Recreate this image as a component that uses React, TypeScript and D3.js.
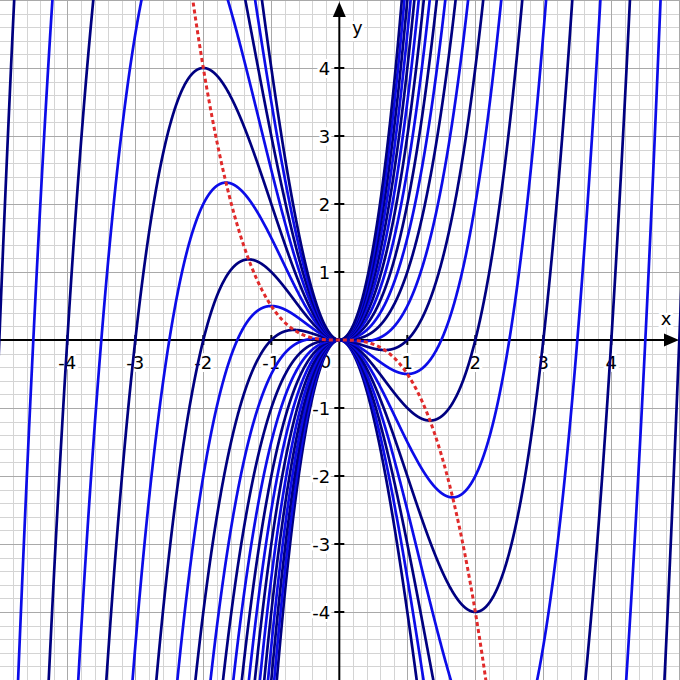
import React, { useEffect } from 'react';
import * as d3 from 'd3';

const W = 680;
const H = 680;

// family f_t(x) = x^3 + t x^2
const params = [-5, -4.5, -4, -3.5, -3, -2.5, -2, -1.5, -1, -0.5, 0, 0.5, 1, 1.5, 2, 2.5, 3, 3.5, 4, 4.5, 5];
const xTickValues = [-4, -3, -2, -1, 1, 2, 3, 4];
const yTickValues = [-4, -3, -2, -1, 1, 2, 3, 4];
const xDomain = [-4.99, 5.01];
const yDomain = [-5.0, 5.0];

const NAVY = '#000080';
const BLUE = '#0c0ce8';
const RED = '#e02a2a';
const FONT = "'DejaVu Sans', Verdana, sans-serif";

export default function App() {
  useEffect(() => {
    document.body.style.margin = '0';
  }, []);

  const x = d3.scaleLinear().domain(xDomain).range([0, W]);
  const y = d3.scaleLinear().domain(yDomain).range([H, 0]);

  const xs = d3.range(-5.1, 5.1001, 0.002);
  const clampY = (v: number) => Math.max(-30, Math.min(30, v));
  const line = d3
    .line<[number, number]>()
    .x((d) => x(d[0]))
    .y((d) => y(clampY(d[1])));

  const curvePath = (t: number) => line(xs.map((v) => [v, v * v * v + t * v * v] as [number, number])) || '';
  const locusXs = d3.range(-2.3, 2.3001, 0.002);
  const locusPath = line(locusXs.map((v) => [v, -0.5 * v * v * v] as [number, number])) || '';

  const minorX = d3.range(-25, 26).filter((k) => k % 5 !== 0).map((k) => k / 5);
  const majorX = d3.range(-5, 6);

  const x0 = x(0);
  const y0 = y(0);

  const halo = {
    paintOrder: 'stroke' as const,
    stroke: '#fff',
    strokeWidth: 6,
    strokeLinejoin: 'round' as const,
  };

  return (
    <svg width={W} height={H} style={{ position: 'absolute', left: 0, top: 0, background: '#fff' }}>
      <defs>
        <clipPath id="plot">
          <rect x={0} y={0} width={W} height={H} />
        </clipPath>
      </defs>
      <rect x={0} y={0} width={W} height={H} fill="#fff" />
      {/* minor grid */}
      <g stroke="#d4d4d4" strokeWidth={1}>
        {minorX.map((v) => (
          <line key={'mx' + v} x1={Math.round(x(v)) + 0.5} x2={Math.round(x(v)) + 0.5} y1={0} y2={H} />
        ))}
        {minorX.map((v) => (
          <line key={'my' + v} y1={Math.round(y(v)) + 0.5} y2={Math.round(y(v)) + 0.5} x1={0} x2={W} />
        ))}
      </g>
      {/* major grid */}
      <g stroke="#a9a9a9" strokeWidth={1}>
        {majorX.map((v) => (
          <line key={'Mx' + v} x1={Math.round(x(v)) + 0.5} x2={Math.round(x(v)) + 0.5} y1={0} y2={H} />
        ))}
        {majorX.map((v) => (
          <line key={'My' + v} y1={Math.round(y(v)) + 0.5} y2={Math.round(y(v)) + 0.5} x1={0} x2={W} />
        ))}
      </g>
      {/* axes */}
      <g stroke="#000" strokeWidth={2}>
        <line x1={0} x2={W - 12} y1={y0} y2={y0} />
        <line x1={x0} x2={x0} y1={H} y2={14} />
        {xTickValues.map((v) => (
          <line key={'tx' + v} x1={x(v)} x2={x(v)} y1={y0 - 5} y2={y0 + 5} />
        ))}
        {yTickValues.map((v) => (
          <line key={'ty' + v} x1={x0 - 5} x2={x0 + 5} y1={y(v)} y2={y(v)} />
        ))}
      </g>
      <path d={`M${W - 1},${y0} L${W - 16},${y0 - 6.5} L${W - 16},${y0 + 6.5} Z`} fill="#000" />
      <path d={`M${x0},2 L${x0 - 6.5},17 L${x0 + 6.5},17 Z`} fill="#000" />
      {/* labels */}
      <g fontFamily={FONT} fontSize={18} fill="#000">
        {xTickValues.map((v) => (
          <text key={'lx' + v} x={x(v)} y={y0 + 29} textAnchor="middle" style={halo}>
            {String(v)}
          </text>
        ))}
        {yTickValues.map((v) => (
          <text key={'ly' + v} x={x0 - 9} y={y(v) + 6.5} textAnchor="end" style={halo}>
            {String(v)}
          </text>
        ))}
        <text x={x0 - 8} y={y0 + 28} textAnchor="end" style={halo}>
          0
        </text>
        <text x={666} y={y0 - 15} textAnchor="middle" style={halo}>
          x
        </text>
        <text x={x0 + 18} y={34} textAnchor="middle" style={halo}>
          y
        </text>
      </g>
      {/* curves */}
      <g clipPath="url(#plot)" fill="none" strokeWidth={2.7}>
        {params.map((t) => (
          <path key={'c' + t} d={curvePath(t)} stroke={Number.isInteger(t) ? NAVY : BLUE} />
        ))}
        <path d={locusPath} stroke={RED} strokeWidth={3} strokeDasharray="4,3" />
      </g>
    </svg>
  );
}
